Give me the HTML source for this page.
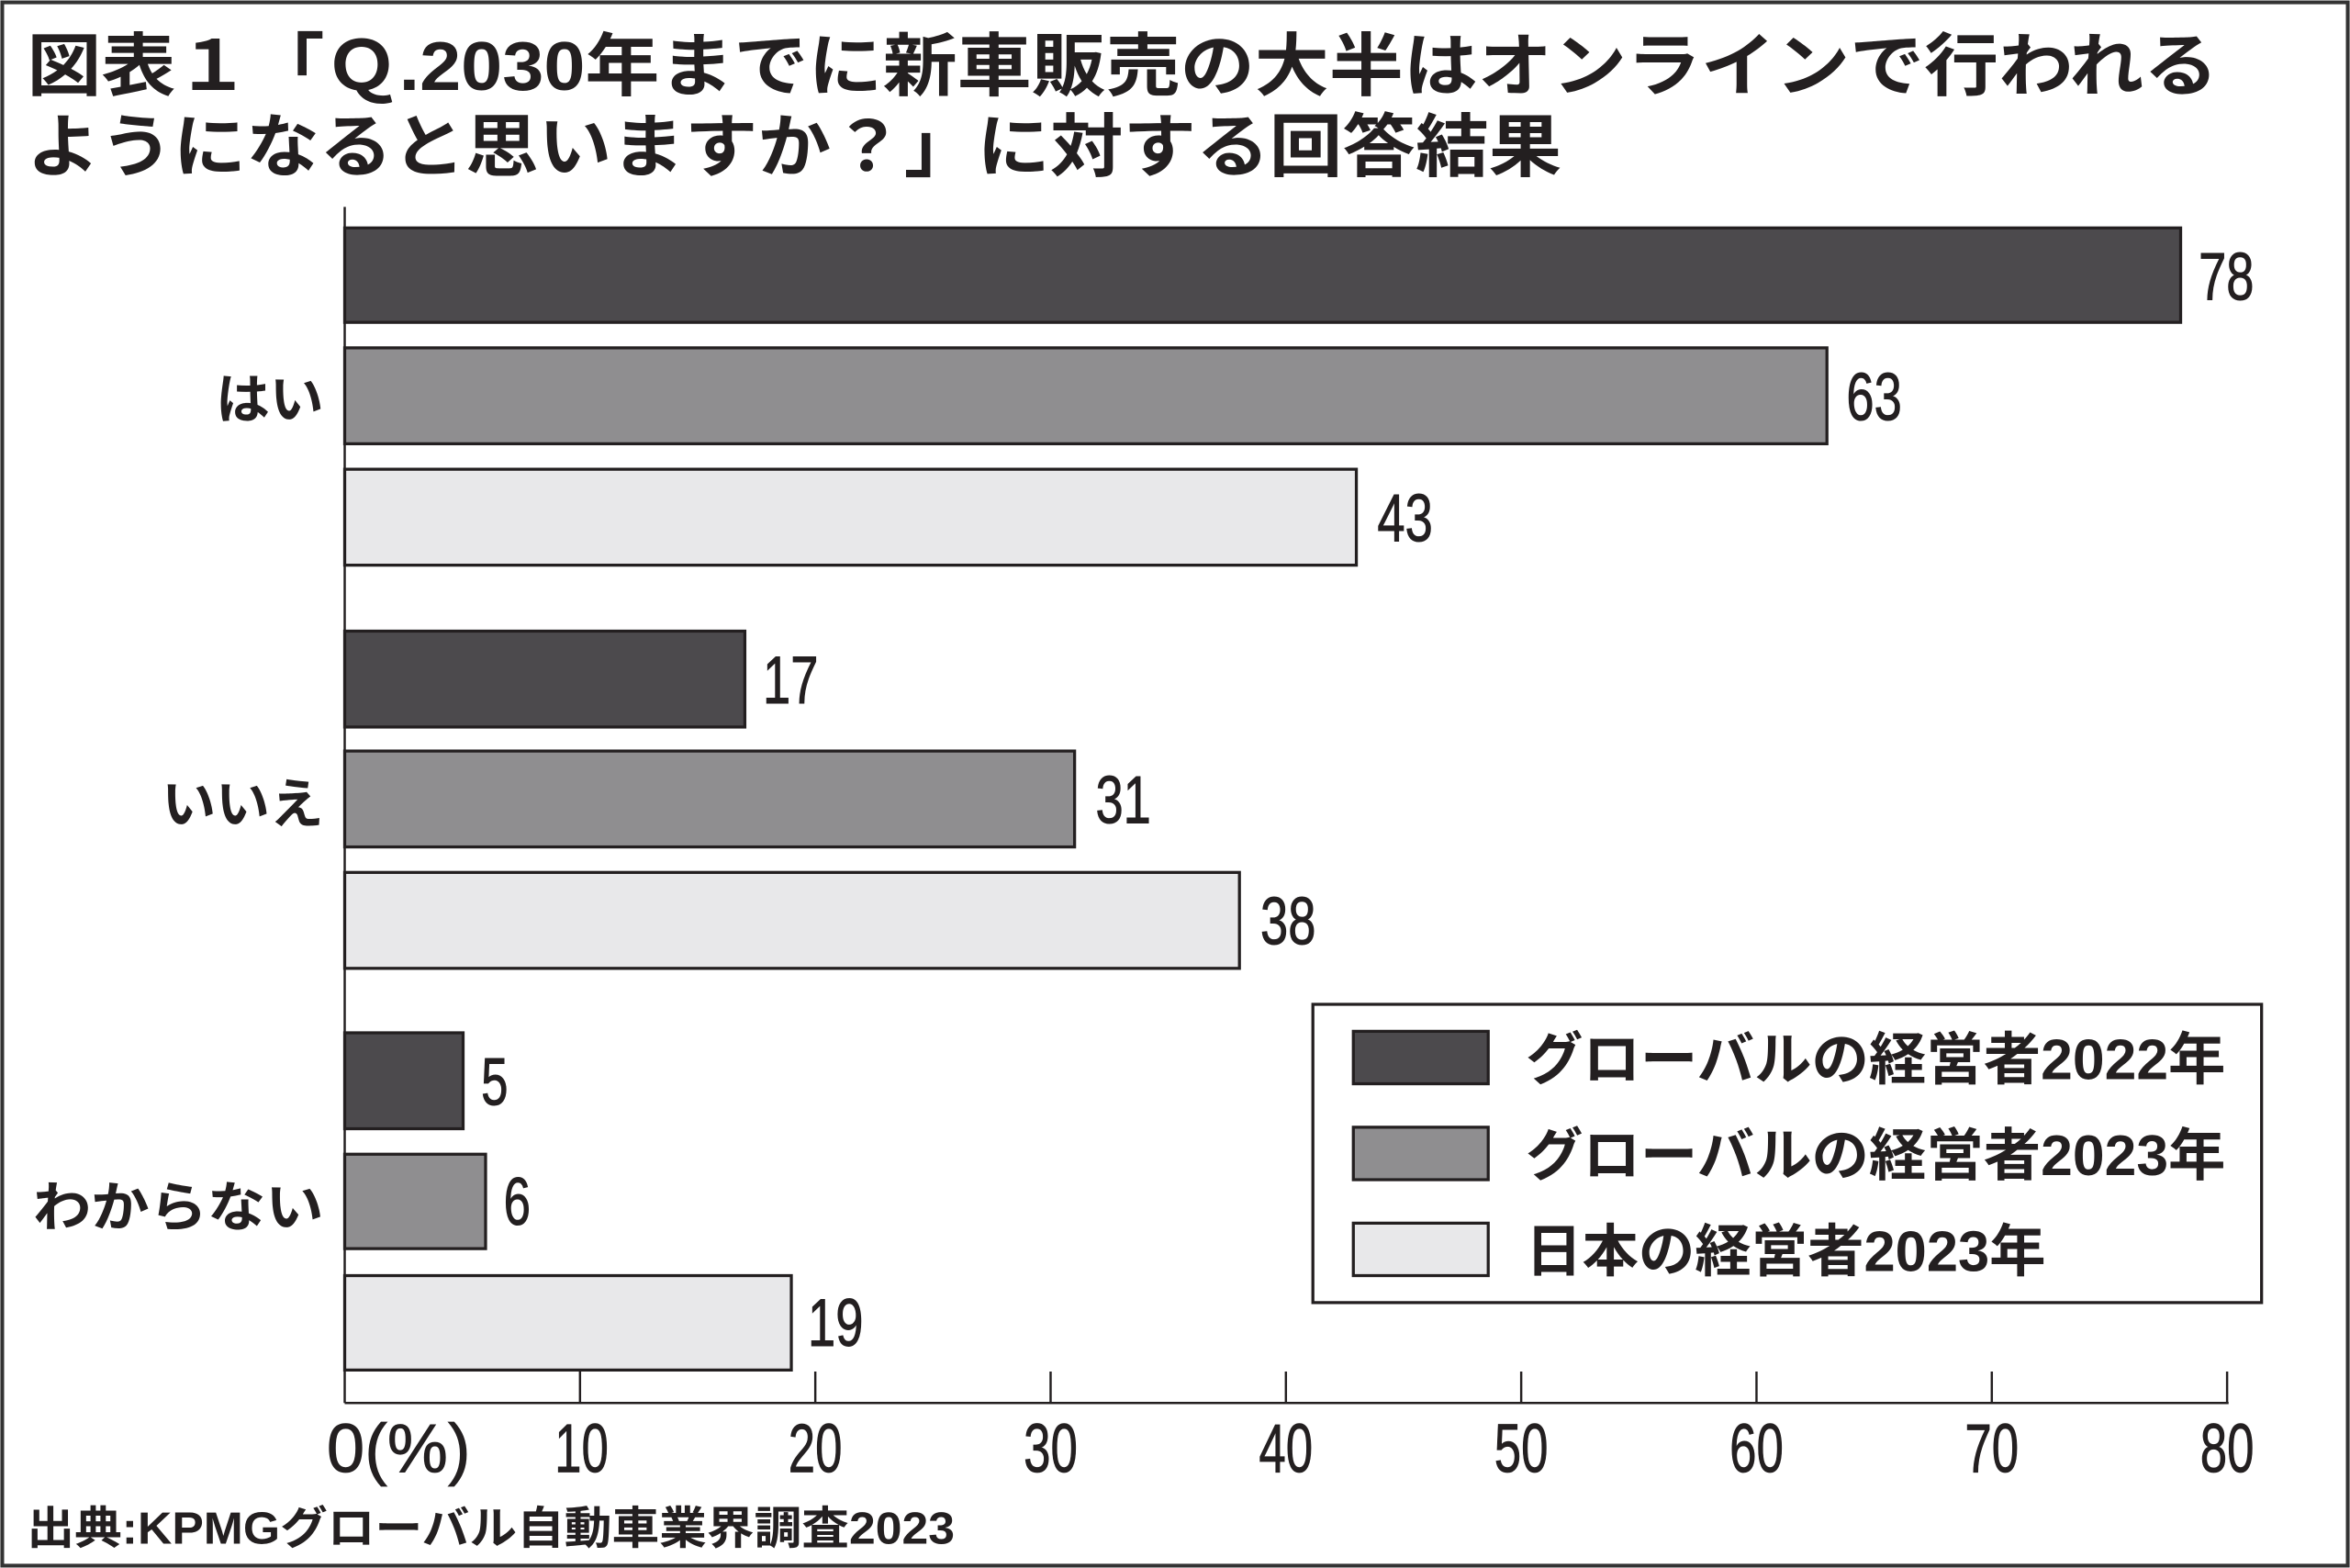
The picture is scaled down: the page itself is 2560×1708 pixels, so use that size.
<!DOCTYPE html>
<html><head><meta charset="utf-8"><style>
html,body{margin:0;padding:0;background:#fff;}
svg{display:block;}
text{font-family:"Liberation Sans","Noto Sans CJK JP",sans-serif;fill:#231f20;}
.n{font-family:"Liberation Sans Narrow","Liberation Sans","Noto Sans CJK JP",sans-serif;}
</style></head><body>
<svg width="2560" height="1708" viewBox="0 0 1568 1046" xmlns="http://www.w3.org/2000/svg">
<rect x="0" y="0" width="1568" height="1046" fill="#fff"/>
<rect x="1.5" y="1.5" width="1565" height="1043" fill="none" stroke="#333" stroke-width="2.5"/>
<text x="18" y="60" font-size="46" font-weight="bold" textLength="1462" lengthAdjust="spacingAndGlyphs">図表１「Ｑ.2030年までに新車販売の大半はオンラインで行われる</text>
<text x="18" y="114" font-size="46" font-weight="bold" textLength="1024" lengthAdjust="spacingAndGlyphs">ようになると思いますか？」に対する回答結果</text>
<g stroke="#231f20" stroke-width="1.5">
<line x1="230" y1="138" x2="230" y2="936"/>
<line x1="230" y1="936" x2="1487" y2="936"/>
<line x1="387" y1="915" x2="387" y2="936"/>
<line x1="544" y1="915" x2="544" y2="936"/>
<line x1="701" y1="915" x2="701" y2="936"/>
<line x1="858" y1="915" x2="858" y2="936"/>
<line x1="1015" y1="915" x2="1015" y2="936"/>
<line x1="1172" y1="915" x2="1172" y2="936"/>
<line x1="1329" y1="915" x2="1329" y2="936"/>
<line x1="1486" y1="915" x2="1486" y2="936"/>
</g>
<g stroke="#231f20" stroke-width="2">
<rect x="230" y="152" width="1225" height="63" fill="#4c4a4d"/>
<rect x="230" y="232" width="989" height="64" fill="#8f8e90"/>
<rect x="230" y="313" width="675" height="64" fill="#e8e8ea"/>
<rect x="230" y="421" width="267" height="64" fill="#4c4a4d"/>
<rect x="230" y="501" width="487" height="64" fill="#8f8e90"/>
<rect x="230" y="582" width="597" height="64" fill="#e8e8ea"/>
<rect x="230" y="689" width="79" height="64" fill="#4c4a4d"/>
<rect x="230" y="770" width="94" height="63" fill="#8f8e90"/>
<rect x="230" y="851" width="298" height="63" fill="#e8e8ea"/>
</g>
<g font-size="45">
<text class="n" x="1467" y="200" textLength="37" lengthAdjust="spacingAndGlyphs" stroke="#231f20" stroke-width="0.6">78</text>
<text class="n" x="1232" y="280" textLength="37" lengthAdjust="spacingAndGlyphs" stroke="#231f20" stroke-width="0.6">63</text>
<text class="n" x="919" y="361" textLength="37" lengthAdjust="spacingAndGlyphs" stroke="#231f20" stroke-width="0.6">43</text>
<text class="n" x="509" y="469" textLength="37" lengthAdjust="spacingAndGlyphs" stroke="#231f20" stroke-width="0.6">17</text>
<text class="n" x="731" y="549" textLength="37" lengthAdjust="spacingAndGlyphs" stroke="#231f20" stroke-width="0.6">31</text>
<text class="n" x="841" y="630" textLength="37" lengthAdjust="spacingAndGlyphs" stroke="#231f20" stroke-width="0.6">38</text>
<text class="n" x="321" y="737" textLength="18" lengthAdjust="spacingAndGlyphs" stroke="#231f20" stroke-width="0.6">5</text>
<text class="n" x="336" y="817" textLength="18" lengthAdjust="spacingAndGlyphs" stroke="#231f20" stroke-width="0.6">6</text>
<text class="n" x="539" y="898" textLength="37" lengthAdjust="spacingAndGlyphs" stroke="#231f20" stroke-width="0.6">19</text>
</g>
<g font-size="36" font-weight="bold">
<text x="216" y="279" text-anchor="end">はい</text>
<text x="216" y="549" text-anchor="end">いいえ</text>
<text x="22" y="818" textLength="194" lengthAdjust="spacingAndGlyphs">わからない</text>
</g>
<g font-size="46">
<text class="n" x="218" y="982" textLength="96" lengthAdjust="spacingAndGlyphs" stroke="#231f20" stroke-width="0.5">0(%)</text>
<text class="n" x="370" y="982" textLength="36" lengthAdjust="spacingAndGlyphs" stroke="#231f20" stroke-width="0.5">10</text>
<text class="n" x="526" y="982" textLength="36" lengthAdjust="spacingAndGlyphs" stroke="#231f20" stroke-width="0.5">20</text>
<text class="n" x="683" y="982" textLength="36" lengthAdjust="spacingAndGlyphs" stroke="#231f20" stroke-width="0.5">30</text>
<text class="n" x="840" y="982" textLength="36" lengthAdjust="spacingAndGlyphs" stroke="#231f20" stroke-width="0.5">40</text>
<text class="n" x="997" y="982" textLength="36" lengthAdjust="spacingAndGlyphs" stroke="#231f20" stroke-width="0.5">50</text>
<text class="n" x="1154" y="982" textLength="36" lengthAdjust="spacingAndGlyphs" stroke="#231f20" stroke-width="0.5">60</text>
<text class="n" x="1311" y="982" textLength="36" lengthAdjust="spacingAndGlyphs" stroke="#231f20" stroke-width="0.5">70</text>
<text class="n" x="1468" y="982" textLength="36" lengthAdjust="spacingAndGlyphs" stroke="#231f20" stroke-width="0.5">80</text>
</g>
<text x="18" y="1030" font-size="30" font-weight="bold" textLength="619" lengthAdjust="spacingAndGlyphs">出典:KPMGグローバル自動車業界調査2023</text>
<rect x="876" y="670" width="633" height="199" fill="#fff" stroke="#231f20" stroke-width="2"/>
<g stroke="#231f20" stroke-width="2">
<rect x="903" y="688" width="90" height="35" fill="#4c4a4d"/>
<rect x="903" y="752" width="90" height="35" fill="#8f8e90"/>
<rect x="903" y="816" width="90" height="35" fill="#e8e8ea"/>
</g>
<g font-size="38" font-weight="bold">
<text x="1018" y="720" textLength="467" lengthAdjust="spacingAndGlyphs">グローバルの経営者2022年</text>
<text x="1018" y="784" textLength="467" lengthAdjust="spacingAndGlyphs">グローバルの経営者2023年</text>
<text x="1018" y="848" textLength="347" lengthAdjust="spacingAndGlyphs">日本の経営者2023年</text>
</g>
</svg>
</body></html>
